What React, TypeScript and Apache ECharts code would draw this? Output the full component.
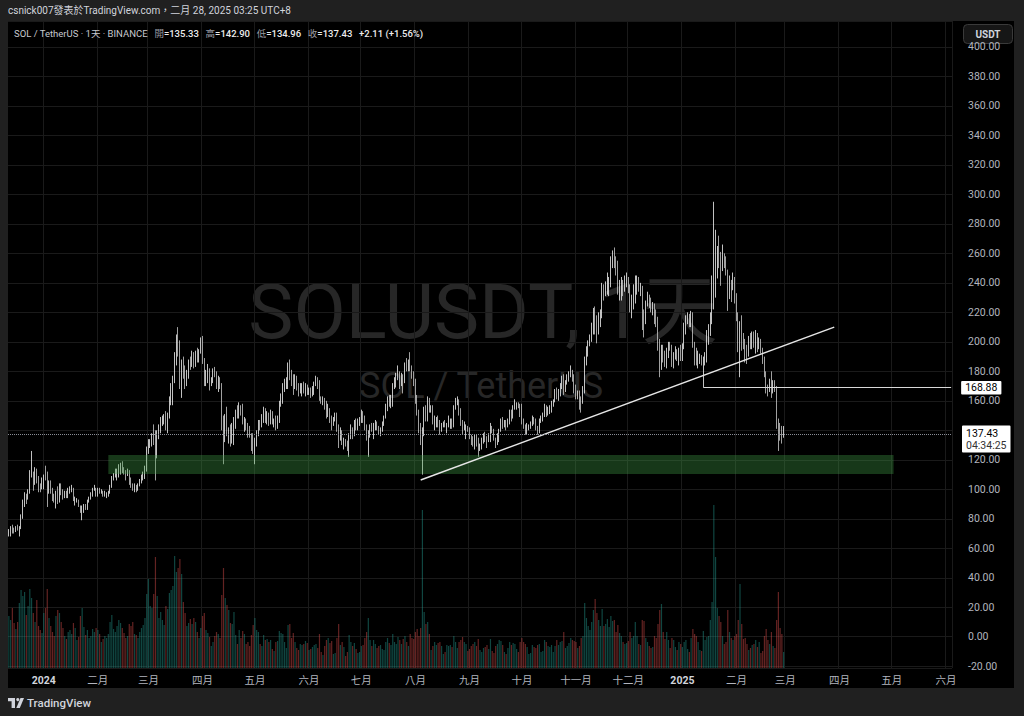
import React, { useEffect, useRef } from "react";
import * as echarts from "echarts";

// ---- daily candles: [close, high, low]; open = previous close ----
const FIRST_OPEN = 69;
const dec2023 = [
  [71,73,68],[74,75,68],[72,76,70],[71,74,70],[74,75,71],[73,76,72],[74,75,68],[81,83,73],[89,93,80],[95,98,88],
  [94,97,90],[98,100,93],[110,113,97],[111,126,108],[104,112,99],[113,115,103],[106,114,104],[102,109,98],[101,104,98],[101,108,100],
];
const jan2024 = [
  [109,110,100],[108,116,106],[98,112,88],[104,106,97],[100,106,97],[94,101,92],[92,97,91],[98,99,87],[93,102,90],[101,104,91],
  [98,104,96],[95,100,93],[98,99,94],[95,99,94],[99,101,94],[100,102,97],[100,103,98],[93,101,92],[93,95,89],[93,94,91],
  [89,93,88],[86,89,84],[86,89,79],[89,90,84],[87,90,86],[92,93,86],[94,95,91],[97,98,93],[100,101,95],[100,103,99],
  [96,101,95],
];
const feb2024 = [
  [99,101,95],[98,101,97],[98,100,97],[96,99,95],[96,99,95],[97,98,94],[98,99,95],[102,103,97],[108,109,101],[108,111,106],
  [110,114,108],[110,114,106],[111,117,108],[114,118,110],[113,119,111],[112,115,110],[110,113,106],[112,114,109],[105,113,103],[103,108,101],
  [100,104,99],[102,104,98],[100,103,98],[103,104,99],[106,107,102],[107,110,104],[108,112,106],[113,116,107],[126,129,112],
];
const mar2024 = [
  [131,134,124],[132,134,128],[137,138,129],[135,144,130],[124,140,106],[137,140,121],[142,144,134],[146,149,138],[147,150,143],[148,151,144],
  [147,153,140],[150,152,138],[162,163,148],[167,172,157],[175,177,157],[187,193,172],[203,205,184],[199,210,190],[172,201,168],[186,188,162],
  [179,190,175],[172,184,168],[177,181,170],[187,188,175],[186,190,181],[187,194,183],[185,193,182],[192,194,183],[188,196,186],[193,195,186],
  [202,203,192],
];
const apr2024 = [
  [188,204,185],[175,189,170],[175,181,170],[180,185,172],[173,182,167],[174,176,170],[179,182,172],[178,183,176],[172,180,168],[175,177,166],
  [170,176,168],[147,172,140],[141,150,117],[150,151,132],[138,156,136],[140,142,131],[134,144,129],[143,145,131],[144,149,130],[152,154,141],
  [150,157,148],[155,159,148],[154,157,150],[145,158,144],[147,149,139],[143,148,140],[139,145,135],[137,143,135],[135,138,126],[127,138,124],
];
const may2024 = [
  [133,135,117],[138,140,129],[145,147,136],[143,147,140],[148,151,142],[152,156,145],[147,155,145],[150,153,144],[146,152,143],[152,154,144],
  [145,153,144],[146,148,142],[145,150,140],[147,150,141],[158,160,145],[160,165,156],[168,172,158],[172,175,166],[172,176,168],[183,186,168],
  [178,188,174],[176,181,170],[171,178,164],[176,178,168],[170,177,167],[167,172,163],[168,172,165],[170,172,163],[167,173,165],[168,172,163],
  [166,171,164],
];
const jun2024 = [
  [166,169,164],[164,169,162],[166,170,163],[171,173,164],[172,177,170],[171,176,168],[162,174,160],[160,163,158],[161,163,157],[158,162,154],
  [152,160,148],[155,158,149],[147,155,145],[145,150,140],[148,149,143],[149,152,146],[143,152,139],[135,144,128],[137,142,133],[131,140,130],
  [132,135,127],[131,134,129],[127,133,126],[135,138,122],[140,144,134],[138,142,134],[145,147,136],[141,148,140],[146,148,140],[147,149,143],
];
const jul2024 = [
  [150,154,145],[149,153,145],[141,150,140],[138,144,133],[139,140,122],[143,144,135],[140,145,139],[142,145,134],[144,147,140],[142,146,140],
  [139,143,137],[140,142,136],[145,146,139],[149,150,143],[156,158,148],[160,163,153],[158,164,156],[159,164,155],[170,172,156],[174,176,168],
  [177,179,169],[178,184,174],[171,180,168],[177,179,170],[172,178,165],[185,186,172],[184,189,180],[185,188,180],[182,193,180],[178,184,175],
  [173,180,170],
];
const aug2024 = [
  [161,175,158],[152,164,150],[142,154,138],[133,145,130],[140,142,110],[151,156,136],[148,157,146],[160,163,146],[155,162,152],[155,157,152],
  [145,157,144],[146,150,140],[147,149,142],[144,150,142],[141,147,137],[144,145,139],[144,146,142],[143,147,142],[143,145,138],[146,150,142],
  [146,148,141],[143,148,141],[156,157,142],[160,162,154],[160,163,157],[153,161,150],[145,155,143],[142,147,137],[142,146,140],[142,144,134],
  [141,143,139],
];
const sep2024 = [
  [136,142,134],[133,137,130],[131,136,129],[136,137,127],[131,137,129],[127,135,122],[129,131,126],[133,135,127],[136,138,131],[135,139,132],
  [134,136,128],[134,138,132],[142,145,132],[140,143,138],[134,141,133],[131,135,128],[136,138,130],[140,141,132],[146,148,139],[144,149,141],
  [146,147,142],[143,147,140],[146,148,142],[152,154,144],[148,154,146],[155,157,148],[157,161,154],[158,159,154],[157,159,155],[152,158,149],
];
const oct2024 = [
  [146,158,144],[143,148,141],[138,144,137],[143,145,137],[143,144,140],[145,146,141],[148,150,143],[146,149,144],[141,148,140],[139,143,137],
  [146,148,138],[148,150,145],[150,152,146],[155,158,149],[153,157,149],[154,156,150],[154,157,151],[158,160,152],[160,161,156],[166,168,159],
  [163,169,161],[166,168,160],[170,172,163],[174,177,168],[168,178,164],[172,174,166],[176,178,171],[178,180,173],[180,184,176],[176,181,173],
  [166,178,165],
];
const nov2024 = [
  [163,171,161],[165,167,161],[161,167,154],[160,163,152],[168,170,158],[187,190,165],[194,197,184],[199,201,190],[203,205,197],[211,213,200],
  [217,223,205],[212,224,205],[211,218,199],[214,220,205],[219,222,210],[237,240,216],[234,239,228],[238,241,231],[238,247,232],[240,244,231],
  [256,258,237],[257,262,250],[254,264,250],[253,258,245],[236,255,232],[236,242,228],[241,244,228],[237,242,231],[238,245,234],[242,247,237],
];
const dec2024 = [
  [236,244,233],[226,239,220],[226,232,216],[234,239,222],[236,245,226],[242,245,232],[236,244,234],[237,240,231],[216,238,208],[214,222,203],
  [226,228,212],[227,234,224],[226,232,223],[222,230,220],[224,227,218],[216,226,212],[214,222,210],[198,217,194],[192,202,176],[194,198,181],
  [190,198,186],[189,194,183],[192,196,182],[198,200,189],[197,200,194],[186,198,183],[189,193,182],[193,197,188],[189,195,187],[194,196,184],
  [189,198,187],
];
const jan2025 = [
  [197,199,187],[207,213,195],[215,218,205],[217,220,212],[213,219,210],[219,221,210],[198,220,196],[191,200,184],[188,196,184],[188,194,182],
  [189,192,185],[187,191,184],[187,190,169],[189,193,184],[206,208,186],[207,212,198],[215,220,204],[240,245,212],[252,295,222],[256,276,230],
  [260,265,243],[256,272,250],[253,261,238],[257,266,248],[254,260,250],[249,258,245],[237,246,221],[238,245,229],[237,242,227],[242,247,235],
  [233,244,226],
];
const feb2025 = [
  [217,233,214],[201,220,193],[211,214,176],[200,218,194],[199,206,195],[192,202,186],[190,198,185],[202,204,190],[201,206,195],[204,207,195],
  [198,207,196],[206,208,192],[196,206,193],[200,203,195],[195,202,192],[188,196,185],[178,190,176],[169,180,165],[168,171,163],[171,175,166],
  [166,180,162],[172,174,165],[169,174,166],[143,170,141],[140,148,126],[139,145,133],[135.33,143,131],[137.43,142.9,134.96],
];

// ---- daily volume (units) ----
const volDec2023 = [5.2,4.8,6.0,4.5,3.9,4.6,6.5,7.8,7.2,7.6,5.3,6.2,7.9,7.0,5.5,4.6,6.8,4.2,3.8,3.5];
const volJan2024 = [5.5,6.0,7.9,5.0,4.2,3.6,3.2,5.2,5.8,5.5,4.6,4.0,3.2,2.9,3.6,3.8,3.4,4.5,4.0,2.8,3.1,5.2,6.0,4.1,3.3,3.8,3.0,3.2,3.9,3.6,4.0];
const volFeb2024 = [3.8,3.4,2.6,2.9,3.2,3.0,3.4,4.6,5.3,3.9,3.6,4.2,4.8,4.5,4.0,3.5,3.0,3.2,4.4,4.2,4.6,3.4,3.3,3.0,3.6,4.0,4.3,5.0,7.4];
const volMar2024 = [8.9,6.2,6.0,7.4,11.1,7.2,5.0,5.6,4.8,4.3,6.2,5.9,7.5,7.8,8.2,11.2,9.6,10.0,10.9,9.4,6.6,5.5,4.2,4.5,4.9,4.4,5.0,4.6,3.6,3.0,4.0];
const volApr2024 = [5.2,5.5,3.8,3.5,3.1,2.2,2.6,3.2,3.6,3.4,3.0,7.3,10.0,7.0,6.3,5.8,4.5,4.4,5.6,3.3,2.4,3.8,3.0,3.7,3.4,2.4,2.6,2.2,3.3,4.3];
const volMay2024 = [5.0,3.8,3.6,2.4,2.2,3.3,2.8,2.9,2.6,2.8,1.9,1.7,2.6,2.7,3.7,3.5,3.4,2.6,2.0,4.3,4.4,3.0,3.5,2.6,2.0,1.8,2.4,2.3,2.4,2.7,2.5];
const volJun2024 = [1.8,1.9,2.1,2.3,2.4,2.0,3.4,1.6,1.3,2.2,2.8,3.0,2.5,2.7,1.4,1.5,3.0,4.4,2.3,2.6,2.1,1.2,1.6,3.3,2.6,2.2,2.5,1.9,1.5,1.6];
const volJul2024 = [2.2,2.3,3.0,3.6,5.0,2.8,2.2,2.8,2.4,2.0,2.2,2.3,1.9,1.8,2.6,3.0,2.5,2.3,3.4,2.6,2.4,3.1,2.8,2.4,2.9,3.2,2.6,2.2,3.4,3.0,2.9];
const volAug2024 = [3.6,3.9,3.2,4.0,15.8,5.6,4.4,4.6,3.4,1.8,2.2,2.6,2.3,2.5,2.6,2.2,1.4,1.6,2.3,2.2,2.3,2.1,3.2,2.6,2.0,2.6,2.8,3.1,2.6,2.4,1.7];
const volSep2024 = [1.9,2.2,2.4,2.6,2.2,2.9,1.8,1.6,2.0,2.1,2.3,1.9,2.9,1.7,1.5,2.2,2.4,2.8,2.7,2.3,1.6,1.4,2.0,2.6,2.3,2.5,2.4,1.9,1.6,2.6];
const volOct2024 = [3.0,2.6,2.4,2.1,1.4,1.5,2.3,2.1,2.0,2.3,2.4,1.6,1.7,2.8,2.6,2.2,2.1,2.3,1.6,2.2,2.8,2.3,2.6,2.7,3.6,2.0,2.2,2.5,3.0,2.8,2.7];
const volNov2024 = [2.6,2.0,2.2,3.0,3.2,6.5,5.0,4.2,3.8,4.6,5.8,6.9,5.5,4.8,4.2,5.9,4.2,4.4,4.9,4.1,5.2,4.7,4.8,3.6,4.3,3.5,3.2,2.6,2.4,2.5];
const volDec2024 = [2.7,3.6,3.0,3.2,4.6,3.2,2.4,2.3,4.8,4.7,3.0,2.6,2.2,2.0,2.1,3.2,3.0,4.4,5.8,6.4,3.6,2.9,3.6,2.8,2.0,3.0,2.8,2.1,1.8,2.6,2.4];
const volJan2025 = [2.1,2.6,2.8,1.9,1.6,3.0,3.9,3.4,3.2,2.6,1.8,1.7,3.7,2.8,3.1,3.2,4.8,6.6,16.3,11.1,6.0,5.2,4.6,3.2,2.4,2.6,5.8,3.6,3.0,2.8,3.2];
const volFeb2025 = [3.4,4.8,8.4,4.4,2.9,3.0,2.4,1.8,2.0,2.3,2.4,2.8,2.1,2.6,1.5,1.7,3.2,3.9,2.8,2.4,3.6,2.2,2.0,4.8,7.6,4.0,3.4,1.6];

// ---- axis / annotation values ----
const START_DATE = "2023-12-12";
const N_CATEGORIES = 541;
const MONTH_NAMES: Record<string, string> = {
  "02": "二月", "03": "三月", "04": "四月", "05": "五月", "06": "六月", "07": "七月",
  "08": "八月", "09": "九月", "10": "十月", "11": "十一月", "12": "十二月",
};
const PRICE_MIN = -21.2;
const PRICE_MAX = 417.6;
const PRICE_STEP = 20;
const HIDDEN_PRICE_LABEL = 140; // covered by the last-price tag
const VOL_MAX = 20;
const LAST_PRICE = 137.43;
const COUNTDOWN = "04:34:25";
const LEVEL = 168.88;
const LEVEL_FROM = "2025-01-13";
const TREND = [["2024-08-04", 106.3], ["2025-03-29", 210.0]];
const ZONE = [["2024-02-07", 123.2], ["2025-05-02", 110.3]];
const HEADER = "csnick007發表於TradingView.com，二月 28, 2025 03:25 UTC+8";
const LEGEND = { title: "SOL / TetherUS · 1天 · BINANCE", o: "135.33", h: "142.90", l: "134.96", c: "137.43", chg: "+2.11 (+1.56%)" };

const FONT = 'Roboto, "Noto Sans CJK TC", "Noto Sans CJK SC", sans-serif';

export default function App() {
  const ref = useRef<HTMLDivElement>(null);
  useEffect(() => {
    if (!ref.current) return;
    const chart = echarts.init(ref.current, undefined, { renderer: "svg" });

    const startMs = Date.parse(START_DATE + "T00:00:00Z");
    const dates = Array.from({ length: N_CATEGORIES }, (_, i) =>
      new Date(startMs + i * 86400000).toISOString().slice(0, 10)
    );
    const rows = [dec2023, jan2024, feb2024, mar2024, apr2024, may2024, jun2024, jul2024, aug2024, sep2024, oct2024, nov2024, dec2024, jan2025, feb2025].flat();
    const vols = [volDec2023, volJan2024, volFeb2024, volMar2024, volApr2024, volMay2024, volJun2024, volJul2024, volAug2024, volSep2024, volOct2024, volNov2024, volDec2024, volJan2025, volFeb2025].flat();
    let prev = FIRST_OPEN;
    const candles = rows.map(([c, h, l]) => {
      const o = prev;
      prev = c;
      return [o, c, Math.min(l, o, c), Math.max(h, o, c)];
    });
    const volData = vols.map((v, i) => ({
      value: v,
      itemStyle: { color: candles[i] && candles[i][1] >= candles[i][0] ? "rgba(38,166,154,0.42)" : "rgba(239,83,80,0.42)" },
    }));
    const isMonthStart = (_: number, v: string) => v.slice(8) === "01";
    const lastDate = dates[dates.length - 1];

    chart.setOption({
      animation: false,
      backgroundColor: "transparent",
      textStyle: { fontFamily: FONT },
      grid: [
        { left: 8, right: 72, top: 21, bottom: 48 },
        { left: 8, right: 72, top: 468, bottom: 48 },
      ],
      xAxis: [
        {
          type: "category", data: dates, gridIndex: 0, boundaryGap: true,
          axisLine: { show: false }, axisTick: { show: false },
          axisLabel: {
            interval: isMonthStart, margin: 7, fontSize: 10.5, color: "#b2b5be",
            formatter: (v: string) => {
              const m = v.slice(5, 7);
              return m === "01" ? "{y|" + v.slice(0, 4) + "}" : MONTH_NAMES[m];
            },
            rich: { y: { fontWeight: "bold", color: "#d1d4dc", fontSize: 10.5 } },
          },
          splitLine: { show: true, interval: isMonthStart, lineStyle: { color: "#1a1a1a", width: 1 } },
        },
        { type: "category", data: dates, gridIndex: 1, show: false, boundaryGap: true },
      ],
      yAxis: [
        {
          type: "value", gridIndex: 0, position: "right", min: PRICE_MIN, max: PRICE_MAX,
          minInterval: PRICE_STEP, maxInterval: PRICE_STEP, splitNumber: 22,
          axisLine: { show: false }, axisTick: { show: false },
          axisLabel: {
            margin: 16, fontSize: 10.5, color: "#b2b5be", showMinLabel: false, showMaxLabel: false,
            formatter: (v: number) => (Math.abs(v - HIDDEN_PRICE_LABEL) < 1e-6 ? "" : v.toFixed(2)),
          },
          splitLine: { lineStyle: { color: "#1a1a1a", width: 1 } },
        },
        { type: "value", gridIndex: 1, min: 0, max: VOL_MAX, show: false },
      ],
      series: [
        {
          type: "bar", xAxisIndex: 1, yAxisIndex: 1, data: volData, barWidth: 1.2, z: 1,
        },
        {
          type: "candlestick", xAxisIndex: 0, yAxisIndex: 0, data: candles, barWidth: 0.8, z: 2,
          itemStyle: { color: "#f2f2f2", color0: "#c9c9c9", borderColor: "#f2f2f2", borderColor0: "#c9c9c9", borderWidth: 0.8 },
          markArea: {
            silent: true, z: 3,
            itemStyle: { color: "rgba(67,160,71,0.35)" },
            data: [[{ coord: ZONE[0] }, { coord: ZONE[1] }]],
          },
          markLine: {
            silent: true, symbol: ["none", "none"], z: 5,
            data: [
              [
                { coord: TREND[0], lineStyle: { color: "#e6e6e6", width: 1.5, type: "solid" }, label: { show: false } },
                { coord: TREND[1] },
              ],
              [
                {
                  coord: [LEVEL_FROM, LEVEL], lineStyle: { color: "#d9d9d9", width: 1, type: "solid" },
                  label: {
                    show: true, position: "end", distance: 10, formatter: LEVEL.toFixed(2),
                    backgroundColor: "#ffffff", color: "#000000", padding: [2, 4, 1, 4], fontSize: 10.5, borderRadius: 1,
                  },
                },
                { coord: [lastDate, LEVEL] },
              ],
              {
                yAxis: LAST_PRICE,
                lineStyle: { color: "#8a8d96", width: 1, type: "dotted" },
                label: {
                  show: true, position: "end", distance: 10,
                  formatter: "{a|" + LAST_PRICE.toFixed(2) + "}\n{b|" + COUNTDOWN + "}",
                  backgroundColor: "#ffffff", padding: [2, 4, 1, 4], borderRadius: 1, offset: [0, 5],
                  rich: {
                    a: { color: "#000000", fontSize: 10.5, lineHeight: 12 },
                    b: { color: "#333333", fontSize: 10.5, lineHeight: 12 },
                  },
                },
              },
            ],
          },
        },
      ],
      graphic: [
        {
          type: "text", left: 8, top: 5, z: 10,
          style: { text: HEADER, fill: "#d1d4dc", font: "10px " + FONT },
        },
        {
          type: "text", left: 14, top: 27, z: 10,
          style: {
            text: "{t|" + LEGEND.title + "}  {k|開}{v|=" + LEGEND.o + "}  {k|高}{v|=" + LEGEND.h + "}  {k|低}{v|=" + LEGEND.l + "}  {k|收}{v|=" + LEGEND.c + "}  {v|" + LEGEND.chg + "}",
            rich: {
              t: { fill: "#c7c9cf", fontSize: 9.5, fontFamily: FONT },
              k: { fill: "#9a9ca3", fontSize: 9.5, fontFamily: FONT },
              v: { fill: "#ececec", fontSize: 9.5, fontFamily: FONT, fontWeight: 500 },
            },
          },
        },
        {
          type: "text", x: 483, y: 312, z: -1,
          style: { text: "SOLUSDT, 1天", fill: "#272727", font: "76px " + FONT, textAlign: "center", textVerticalAlign: "middle" },
        },
        {
          type: "text", x: 481, y: 386, z: -1,
          style: { text: "SOL / TetherUS", fill: "#272727", font: "36px " + FONT, textAlign: "center", textVerticalAlign: "middle" },
        },
        {
          type: "group", left: 963, top: 24, z: 100,
          children: [
            { type: "rect", shape: { x: 0, y: 0, width: 49, height: 19, r: 4 }, style: { fill: "#161616", stroke: "#3a3a3a", lineWidth: 1 } },
            { type: "text", x: 24.5, y: 9.5, style: { text: "USDT", fill: "#d1d4dc", font: "bold 10px " + FONT, textAlign: "center", textVerticalAlign: "middle" } },
          ],
        },
        {
          type: "group", left: 8, top: 698, z: 10,
          children: [
            { type: "polygon", shape: { points: [[0, 0], [7, 0], [7, 10], [3.6, 10], [3.6, 3.2], [0, 3.2]] }, style: { fill: "#d1d4dc" } },
            { type: "circle", shape: { cx: 9.8, cy: 1.6, r: 1.6 }, style: { fill: "#d1d4dc" } },
            { type: "polygon", shape: { points: [[12.5, 0], [16, 0], [11.8, 10], [8.3, 10]] }, style: { fill: "#d1d4dc" } },
          ],
        },
        {
          type: "text", left: 27, top: 697, z: 10,
          style: { text: "TradingView", fill: "#d1d4dc", font: "500 11.5px " + FONT },
        },
      ],
    });
    return () => chart.dispose();
  }, []);

  return (
    <div style={{ position: "fixed", left: 0, top: 0, width: 1024, height: 716, background: "#202020" }}>
      <div style={{ position: "absolute", left: 8, top: 21, width: 1006, height: 667, background: "#000" }} />
      <div ref={ref} style={{ position: "absolute", left: 0, top: 0, width: 1024, height: 716 }} />
    </div>
  );
}
